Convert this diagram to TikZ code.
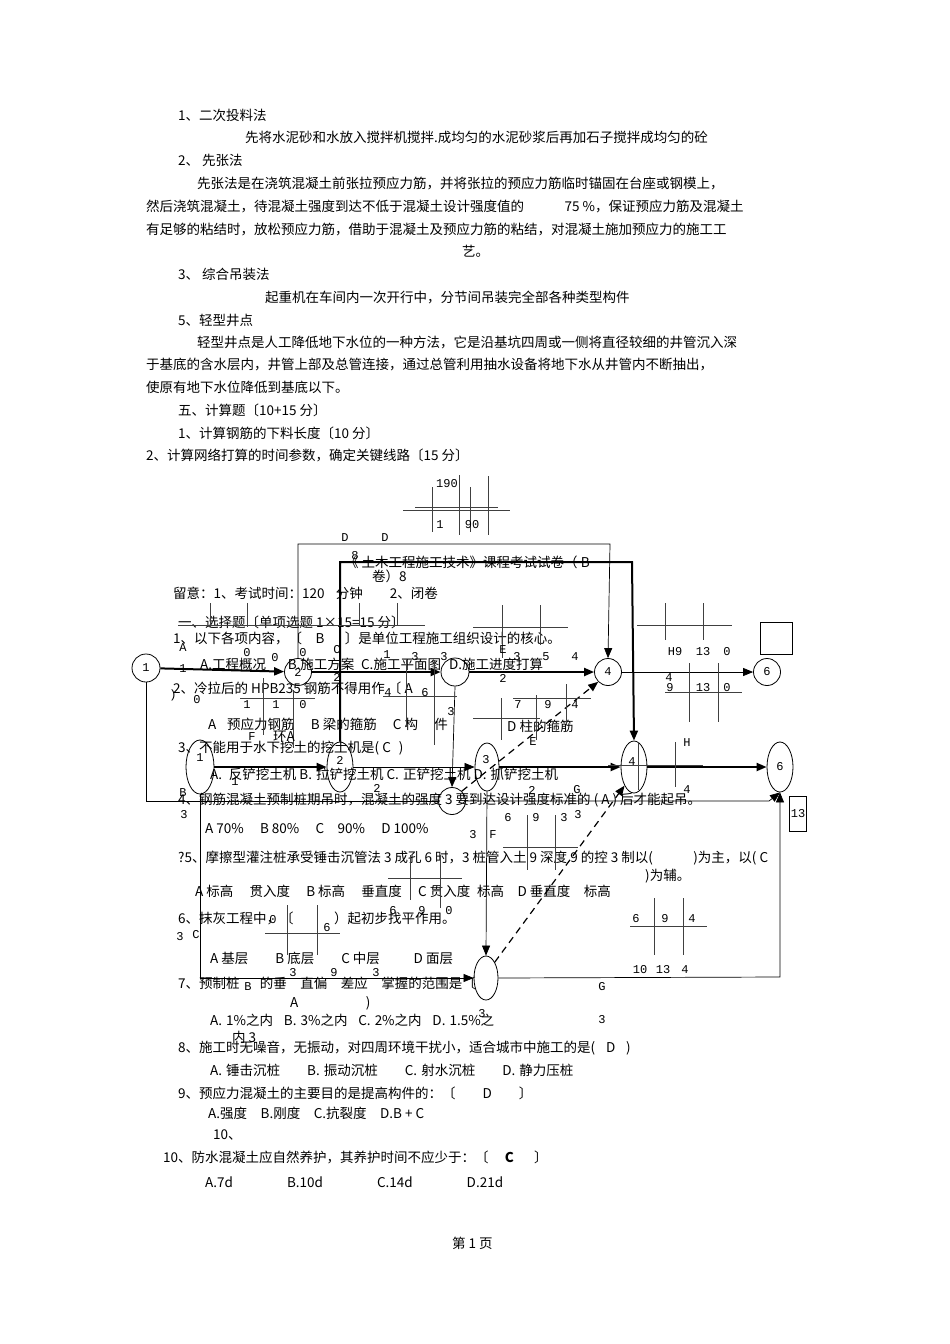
\documentclass[tikz,border=0pt]{standalone}
\usepackage{fontspec}
\setmainfont{Noto Sans CJK SC}
\newfontfamily\numf{Liberation Mono}
\usetikzlibrary{arrows.meta,shapes.geometric}
\begin{document}
\begin{tikzpicture}[x=1pt,y=-1pt,
  txt/.style={anchor=west,inner sep=0pt,font=\fontsize{13.5}{15}\selectfont},
  lab/.style={inner sep=0pt,font=\numf\fontsize{12}{14}\selectfont},
  nd/.style={draw,thick,ellipse,inner sep=0pt,font=\numf\fontsize{12}{14}\selectfont},
  ln/.style={line width=0.7pt},
  thk/.style={line width=2pt},
  arr/.style={-{Triangle[length=10pt,width=8pt]}},
  grid/.style={line width=0.8pt,black!75}]
\useasboundingbox (0,0) rectangle (950,1344);
\fill[white] (0,0) rectangle (950,1344);
% ---------- text ----------
\node[txt] (t1) at (178,115) {1、二次投料法};
\node[txt] (t2) at (245,137) {先将水泥砂和水放入搅拌机搅拌.成均匀的水泥砂浆后再加石子搅拌成均匀的砼};
\node[txt] (t3) at (178,160) {2、 先张法};
\node[txt] (t4) at (197,183) {先张法是在浇筑混凝土前张拉预应力筋，并将张拉的预应力筋临时锚固在台座或钢模上，};
\node[txt] (t5) at (146,206) {然后浇筑混凝土，待混凝土强度到达不低于混凝土设计强度值的\hspace{3em}75 \%，保证预应力筋及混凝土};
\node[txt] (t6) at (146,229) {有足够的粘结时，放松预应力筋，借助于混凝土及预应力筋的粘结，对混凝土施加预应力的施工工};
\node[txt] (t7) at (462,251) {艺。};
\node[txt] (t8) at (178,274) {3、 综合吊装法};
\node[txt] (t9) at (265,297) {起重机在车间内一次开行中，分节间吊装完全部各种类型构件};
\node[txt] (t10) at (178,320) {5、轻型井点};
\node[txt] (t11) at (197,342) {轻型井点是人工降低地下水位的一种方法，它是沿基坑四周或一侧将直径较细的井管沉入深};
\node[txt] (t12) at (146,365) {于基底的含水层内，井管上部及总管连接，通过总管利用抽水设备将地下水从井管内不断抽出，};
\node[txt] (t13) at (146,387) {使原有地下水位降低到基底以下。};
\node[txt] (t14) at (178,410) {五、计算题〔10+15 分〕};
\node[txt] (t15) at (178,433) {1、计算钢筋的下料长度〔10 分〕};
\node[txt] (t16) at (146,455) {2、计算网络打算的时间参数，确定关键线路〔15 分〕};
\node[txt] (q0) at (345,562) {《 土木工程施工技术》课程考试试卷（ B};
\node[txt] (q0b) at (372,576) {卷）8};
\node[txt] (q1) at (173,593) {留意：1、考试时间：120\hspace{0.6em} 分钟\hspace{2em}2、闭卷};
\node[txt] (q2) at (178,622) {一、选择题〔单项选题 1×15=15 分〕};
\node[txt] (q3) at (173,638) {1、以下各项内容，〔\hspace{1em}B\hspace{1.5em}〕是单位工程施工组织设计的核心。};
\node[txt] (q4) at (200,664) {A.工程概况\hspace{1.6em}B.施工方案\hspace{0.5em}C.施工平面图\hspace{0.6em}D.施工进度打算};
\node[txt] (q5) at (173,688) {2、冷拉后的 HPB235 钢筋不得用作 〔 A};
\node[txt] (q6) at (208,724) {A\hspace{0.8em}预应力钢筋\hspace{1.2em}B 梁的箍筋\hspace{1.2em}C 构\hspace{1.2em}件};
\node[txt] (q6b) at (507,726) {D 柱的箍筋};
\node[txt] (q7) at (178,748) {3、不能用于水下挖土的挖土机是( C\hspace{0.6em})};
\node[txt] (q8) at (210,774) {A.\hspace{0.5em}反铲挖土机 B.\hspace{0.3em}拉铲挖土机 C.\hspace{0.3em}正铲挖土机 D.\hspace{0.3em}抓铲挖土机};
\node[txt] (q9) at (178,800) {4、钢筋混凝土预制桩期吊时，混凝土的强度 3 要到达设计强度标准的 ( A ) 后才能起吊。};
\node[txt] (q10) at (205,829) {A 70\%\hspace{1.2em}B 80\%\hspace{1.2em}C\hspace{1em}90\%\hspace{1.2em}D 100\%};
\node[txt] (q11) at (178,858) {?5、摩擦型灌注桩承受锤击沉管法 3 成孔 6 时，3 桩管入土 9 深度 9 的控 3 制以(\hspace{3em})为主，以( C};
\node[txt] (q11b) at (645,876) {)为辅。};
\node[txt] (q12) at (195,891) {A 标高\hspace{1.2em}贯入度\hspace{1.2em}B 标高\hspace{1.2em}垂直度\hspace{1.2em}C 贯入度\hspace{0.5em}标高\hspace{1em}D 垂直度\hspace{1em}标高};
\node[txt] (q13) at (178,918) {6、抹灰工程中，〔\hspace{3em}）起初步找平作用。};
\node[txt] (q14) at (210,958) {A 基层\hspace{2em}B 底层\hspace{2em}C 中层\hspace{2.5em}D 面层};
\node[txt] (q15) at (178,983) {7、预制桩\hspace{1.5em}的垂\hspace{1em}直偏\hspace{1em}差应\hspace{1em}掌握的范围是〔};
\node[txt] (q16) at (290,1003) {A\hspace{5em})};
\node[txt] (q17) at (210,1020) {A.\hspace{0.3em}1\%之内\hspace{0.8em}B.\hspace{0.3em}3\%之内\hspace{0.8em}C.\hspace{0.3em}2\%之内\hspace{0.8em}D.\hspace{0.3em}1.5\%之};
\node[txt] (q17b) at (232,1037) {内 3};
\node[txt] (q18) at (178,1048) {8、施工时无噪音，无振动，对四周环境干扰小，适合城市中施工的是(\hspace{0.8em}D\hspace{0.8em})};
\node[txt] (q19) at (210,1070) {A.\hspace{0.3em}锤击沉桩\hspace{2em}B.\hspace{0.3em}振动沉桩\hspace{2em}C.\hspace{0.3em}射水沉桩\hspace{2em}D.\hspace{0.3em}静力压桩};
\node[txt] (q20) at (178,1093) {9、预应力混凝土的主要目的是提高构件的：〔\hspace{2em}D\hspace{2em}〕};
\node[txt] (q21) at (208,1113) {A.强度\hspace{1em}B.刚度\hspace{1em}C.抗裂度\hspace{1em}D.B + C};
\node[txt] (q22) at (213,1135) {10、};
\node[txt] (q23) at (163,1157) {10、防水混凝土应自然养护，其养护时间不应少于：〔\hspace{1.2em}\textbf{C}\hspace{1.5em}〕};
\node[txt] (q24) at (205,1182) {A.7d\hspace{4em}B.10d\hspace{4em}C.14d\hspace{4em}D.21d};
\node[txt] (pg) at (452,1243) {第 1 页};
% ---------- network nodes ----------
\node[nd,minimum width=28pt,minimum height=28pt] (n1) at (146,668) {1};
\node[nd,minimum width=27pt,minimum height=27pt] (n2) at (298,672) {2};
\node[nd,minimum width=28pt,minimum height=28pt] (n3) at (455,672) {};
\node[nd,minimum width=27pt,minimum height=27pt] (n4) at (608,672) {4};
\node[nd,minimum width=27pt,minimum height=27pt] (n6) at (767,672) {6};
\node[draw,thick,minimum width=32pt,minimum height=32pt,inner sep=0pt] (sq) at (776,638) {};
\node[nd,minimum width=28pt,minimum height=54pt] (e1) at (200,767) {};
\node[nd,minimum width=26pt,minimum height=50pt] (e2) at (340,767) {};
\node[nd,minimum width=24pt,minimum height=48pt] (e3) at (487,767) {};
\node[nd,minimum width=27pt,minimum height=27pt] (c3) at (452,801) {};
\node[nd,minimum width=26pt,minimum height=52pt] (e4) at (634,767) {};
\node[nd,minimum width=26pt,minimum height=50pt] (e6) at (780,767) {6};
\node[draw,thick,minimum width=17pt,minimum height=35pt,inner sep=0pt,font=\numf\fontsize{12}{14}\selectfont] (b13) at (798,814) {13};
\node[nd,minimum width=24pt,minimum height=44pt] (e7) at (486,978) {};
\node[lab] at (200,758) {1};
\node[lab] at (340,760) {2};
\node[lab] at (486,760) {3};
\node[lab] at (632,762) {4};
% ---------- connectors ----------
\draw[thk,arr] (n1) -- (n2);
\draw[thk,arr] (n2) -- (n3);
\draw[thk,arr] (n3) -- (n4);
\draw[ln,arr] (n4) -- (n6);
\draw[ln] (n1.south) -- (146,801) -- (c3.west);
\draw[ln,arr] (c3.east) -- (769,801) -- (e6.south);
\draw[ln,arr] (n2.north) |- (610,544) -- (n4.north);
\draw[thk,arr] (e2.north) |- (632,562) -- (e4.north);
\draw[thk,arr] (e1) -- (e2);
\draw[ln,arr] (e2) -- (e3);
\draw[thk,arr] (e3) -- (e4);
\draw[thk,arr] (e4) -- (e6);
\draw[ln,arr] (n3.south) -- (c3.north);
\draw[ln,arr] (e3.south) -- (e7.north);
\draw[line width=1.2pt,dash pattern=on 7pt off 5pt,arr] (c3.north east) -- (n4.south west);
\draw[line width=1.2pt,dash pattern=on 7pt off 5pt,arr] (e7.north east) -- (e4.south west);
\draw[ln,arr] (e7.east) -- (780,977) -- (e6.south);
\draw[ln,arr] (e1.south) |- (e7.west);
% ---------- grids ----------
\draw[grid] (403,510) -- (510,510) (415,507) -- (498,507)
  (432,487) -- (432,532) (459,475) -- (459,535) (470,487) -- (470,532) (488,476) -- (488,535);
\draw[grid] (178,625) -- (425,625) (210,603) -- (210,627) (247,603) -- (247,627) (359,603) -- (359,625) (397,603) -- (397,625);
\draw[grid] (240,698) -- (315,698) (263,678) -- (263,735) (293,690) -- (293,748);
\draw[grid] (383,696) -- (457,696) (406,660) -- (406,727) (434,660) -- (434,745);
\draw[grid] (473,627) -- (568,627) (502,605) -- (502,658) (540,605) -- (540,645);
\draw[grid] (513,698) -- (591,698) (473,718) -- (540,718) (501,698) -- (501,740) (536,695) -- (536,740) (566,684) -- (566,725);
\draw[grid] (637,625) -- (732,625) (665,603) -- (665,640) (703,603) -- (703,640);
\draw[grid] (665,692) -- (742,692) (689,663) -- (689,722) (718,663) -- (718,722);
\draw[grid] (608,765) -- (703,765) (675,742) -- (675,787) (638,742) -- (638,790);
\draw[grid] (503,847) -- (578,847) (527,815) -- (527,870) (555,815) -- (555,870);
\draw[grid] (388,878) -- (462,878) (410,855) -- (410,900) (440,855) -- (440,908);
\draw[grid] (265,933) -- (340,933) (287,905) -- (287,955) (317,905) -- (317,955);
\draw[grid] (630,926) -- (707,926) (654,898) -- (654,955) (683,898) -- (683,955);
% ---------- diagram labels ----------
\foreach \x/\y/\t in {447/484/190, 440/525/1, 472/525/90, 345/538/D, 385/538/D, 355/556/8,
  183/648/A, 183/669/1, 247/653/0, 275/658/0, 303/653/0, 337/650/C, 387/655/1, 415/657/3, 444/657/3,
  337/677/2, 503/678/2, 173/695/), 197/700/0, 247/705/1, 276/705/1, 303/705/0, 388/693/4, 425/693/6, 451/712/3,
  503/650/E, 517/657/3, 546/657/5, 575/657/4, 518/705/7, 548/705/9, 575/705/4, 533/742/E,
  675/652/H9, 703/652/13, 727/652/0, 669/678/4, 670/688/9, 703/688/13, 727/688/0,
  687/743/H, 687/790/4, 532/790/2, 577/790/G, 508/818/6, 536/818/9, 564/818/3, 578/815/3, 473/835/3, 493/835/F,
  252/737/F, 235/782/1, 377/788/2, 183/793/B, 184/815/3,
  393/911/6, 422/911/9, 449/911/0, 273/920/0, 327/928/6, 180/937/3, 196/935/C,
  636/919/6, 665/919/9, 692/919/4, 640/970/10, 663/970/13, 685/970/4, 602/987/G, 602/1020/3,
  293/973/3, 334/973/9, 376/973/3, 248/987/B, 482/1014/3}
  \node[lab] at (\x,\y) {\t};
\node[txt] at (273,737) {环A};
\end{tikzpicture}
\end{document}
